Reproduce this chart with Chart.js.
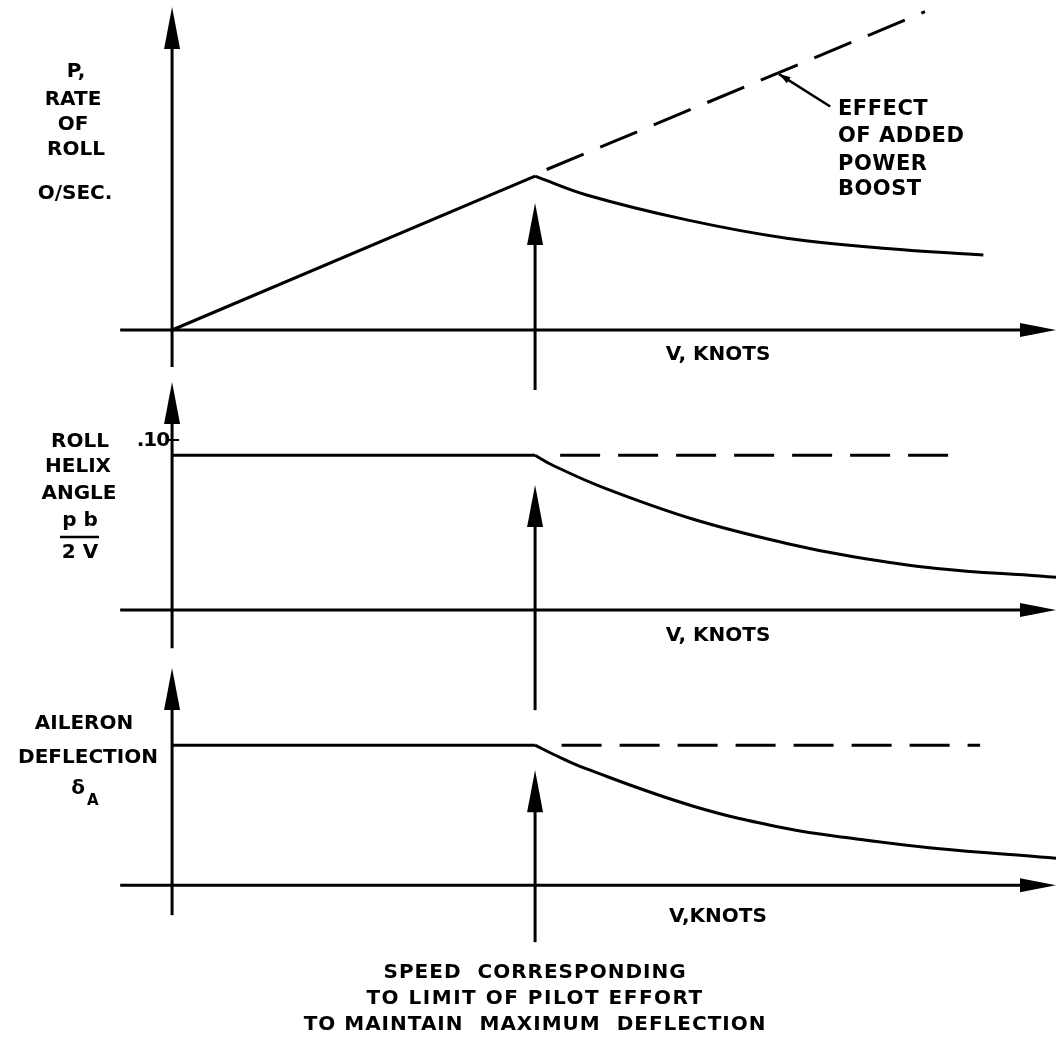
<!DOCTYPE html>
<html lang="en">
<head>
<meta charset="UTF-8" />
<title>Rate of roll, helix angle and aileron deflection vs speed</title>
<script src="https://cdn.jsdelivr.net/npm/chart.js@4.4.1/dist/chart.umd.min.js"></script>
<style>
  html, body { margin: 0; padding: 0; background: #fff; }
  #wrap { width: 1056px; height: 1040px; }
</style>
</head>
<body>
<div id="wrap"><canvas id="grafico" width="1056" height="1040"></canvas></div>

<script>
// V in arbitrary units, the pilot-effort limit speed sits at V = 10

// top panel: p, rate of roll
const rollRiseV = [0, 10];
const rollRiseP = [0, 5.13];
const rollDecayV = [10, 11.42, 14.18, 16.93, 19.69, 22.35];
const rollDecayP = [5.13, 4.5, 3.67, 3.06, 2.72, 2.5];
const boostV = [10.32, 20.74];
const boostP = [5.35, 10.61];

// middle panel: roll helix angle pb/2V
const helixFlatV = [0, 10];
const helixFlat = [0.091, 0.091];
const helixDecayV = [10, 10.5, 11.88, 14.36, 16.93, 18.77, 21.07, 23.91, 24.35];
const helixDecay = [0.091, 0.085, 0.072, 0.0534, 0.0392, 0.0314, 0.0245, 0.02, 0.0193];
const helixBoostV = [10.69, 21.66];
const helixBoost = [0.091, 0.091];
const helixTicks = [0.10];
const helixTickLabels = [".10"];

// bottom panel: aileron deflection
const aileronFlatV = [0, 10];
const aileronFlat = [10, 10];
const aileronDecayV = [10, 10.5, 11.42, 14.36, 16.93, 18.77, 21.07, 23.91, 24.35];
const aileronDecay = [10, 9.35, 8.3, 5.64, 4.05, 3.34, 2.62, 2.02, 1.93];
const aileronBoostV = [10.73, 22.26];
const aileronBoost = [10, 10];

const limitV = 10;

function pts(xs, ys) {
  return xs.map((x, i) => ({ x: x, y: ys[i] }));
}

function serie(xs, ys, eixo, tracejado, curva) {
  return {
    data: pts(xs, ys),
    yAxisID: eixo,
    borderColor: "#000",
    borderWidth: 3,
    pointRadius: 0,
    borderDash: tracejado ? [40, 18] : [],
    tension: curva ? 0.4 : 0,
    fill: false,
  };
}

const FONTE = 'bold 20px "DejaVu Sans", "Liberation Sans", sans-serif';

function setaCima(ctx, x, yPonta, yFim) {
  ctx.beginPath();
  ctx.moveTo(x, yFim);
  ctx.lineTo(x, yPonta + 30);
  ctx.stroke();
  ctx.beginPath();
  ctx.moveTo(x, yPonta);
  ctx.lineTo(x - 8, yPonta + 42);
  ctx.lineTo(x + 8, yPonta + 42);
  ctx.closePath();
  ctx.fill();
}

function setaDireita(ctx, xIni, xPonta, y) {
  ctx.beginPath();
  ctx.moveTo(xIni, y);
  ctx.lineTo(xPonta - 20, y);
  ctx.stroke();
  ctx.beginPath();
  ctx.moveTo(xPonta, y);
  ctx.lineTo(xPonta - 36, y - 7);
  ctx.lineTo(xPonta - 36, y + 7);
  ctx.closePath();
  ctx.fill();
}

function texto(ctx, s, x, y, alinhar, espaco) {
  ctx.letterSpacing = (espaco || 0) + "px";
  ctx.textAlign = alinhar || "center";
  ctx.fillText(s, x, y);
  ctx.letterSpacing = "0px";
}

// axes, arrows and lettering of the schematic
const desenho = {
  id: "desenho",
  afterDatasetsDraw(chart) {
    const ctx = chart.ctx;
    const sx = chart.scales.x;
    const X = (v) => sx.getPixelForValue(v);
    ctx.save();
    ctx.strokeStyle = "#000";
    ctx.fillStyle = "#000";
    ctx.lineWidth = 3;
    ctx.lineCap = "butt";

    // [scale id, top of y axis, bottom of y axis, limit arrow tip, limit line bottom]
    const paineis = [
      ["y1", 10.77, -1.23, 4.23, -2.0],
      ["y2", 0.134, -0.0224, 0.0735, -0.0588],
      ["y3", 15.5, -2.14, 8.21, -4.07],
    ];
    paineis.forEach((p) => {
      const s = chart.scales[p[0]];
      const y0 = s.getPixelForValue(0);
      setaCima(ctx, X(0), s.getPixelForValue(p[1]), s.getPixelForValue(p[2]));
      setaDireita(ctx, X(-1.43), X(sx.max), y0);
      setaCima(ctx, X(limitV), s.getPixelForValue(p[3]), s.getPixelForValue(p[4]));
    });

    ctx.font = FONTE;
    ctx.textBaseline = "middle";

    // tick .10 on the helix axis
    const s2 = chart.scales.y2;
    helixTicks.forEach((t, i) => {
      const yt = s2.getPixelForValue(t);
      ctx.lineWidth = 2;
      ctx.beginPath();
      ctx.moveTo(X(0) - 4, yt);
      ctx.lineTo(X(0) + 7, yt);
      ctx.stroke();
      texto(ctx, helixTickLabels[i], X(0) - 3, yt + 1, "right", -1);
    });

    // speed axis titles
    [["y1", 25], ["y2", 26], ["y3", 32]].forEach((a, i) => {
      const y0 = chart.scales[a[0]].getPixelForValue(0);
      texto(ctx, i === 2 ? "V,KNOTS" : "V, KNOTS", 718, y0 + a[1]);
    });

    // top panel label
    [["P,", 72, 76], ["RATE", 100, 73], ["OF", 125, 73], ["ROLL", 150, 76], ["O/SEC.", 194, 75]].forEach((l) =>
      texto(ctx, l[0], l[2], l[1]));

    // middle panel label
    [["ROLL", 442, 80], ["HELIX", 467, 78], ["ANGLE", 494, 79]].forEach((l) => texto(ctx, l[0], l[2], l[1]));
    texto(ctx, "p b", 80, 521);
    ctx.lineWidth = 2.5;
    ctx.beginPath();
    ctx.moveTo(60, 537);
    ctx.lineTo(99, 537);
    ctx.stroke();
    texto(ctx, "2 V", 80, 553);

    // bottom panel label
    texto(ctx, "AILERON", 84, 724);
    texto(ctx, "DEFLECTION", 88, 758);
    texto(ctx, "\u03b4", 78, 789);
    ctx.font = 'bold 15px "DejaVu Sans", "Liberation Sans", sans-serif';
    texto(ctx, "A", 87, 801, "left");
    ctx.font = FONTE;

    // leader line to the dashed boost line
    const s1 = chart.scales.y1;
    const ax = X(16.72), ay = s1.getPixelForValue(8.53);
    const bx = X(18.13), by = s1.getPixelForValue(7.45);
    ctx.lineWidth = 2.5;
    ctx.beginPath();
    ctx.moveTo(bx, by);
    ctx.lineTo(ax, ay);
    ctx.stroke();
    const ang = Math.atan2(ay - by, ax - bx);
    ctx.beginPath();
    ctx.moveTo(ax, ay);
    ctx.lineTo(ax - 12 * Math.cos(ang - 0.3), ay - 12 * Math.sin(ang - 0.3));
    ctx.lineTo(ax - 12 * Math.cos(ang + 0.3), ay - 12 * Math.sin(ang + 0.3));
    ctx.closePath();
    ctx.fill();

    ctx.font = 'bold 21px "DejaVu Sans", "Liberation Sans", sans-serif';
    [["EFFECT", 110], ["OF ADDED", 137], ["POWER", 165], ["BOOST", 190]].forEach((l) =>
      texto(ctx, l[0], 838, l[1], "left", 0.5));
    ctx.font = FONTE;

    // note under the limit speed
    const xl = X(limitV);
    texto(ctx, "SPEED  CORRESPONDING", xl, 973, "center", 1);
    texto(ctx, "TO LIMIT OF PILOT EFFORT", xl, 999, "center", 1.5);
    texto(ctx, "TO MAINTAIN  MAXIMUM  DEFLECTION", xl, 1025, "center", 1);

    ctx.restore();
  },
};

new Chart(document.getElementById("grafico"), {
  type: "line",
  data: {
    datasets: [
      serie(rollRiseV, rollRiseP, "y1", false, false),
      serie(rollDecayV, rollDecayP, "y1", false, true),
      serie(boostV, boostP, "y1", true, false),
      serie(helixFlatV, helixFlat, "y2", false, false),
      serie(helixDecayV, helixDecay, "y2", false, true),
      serie(helixBoostV, helixBoost, "y2", true, false),
      serie(aileronFlatV, aileronFlat, "y3", false, false),
      serie(aileronDecayV, aileronDecay, "y3", false, true),
      serie(aileronBoostV, aileronBoost, "y3", true, false),
    ],
  },
  options: {
    responsive: false,
    devicePixelRatio: 1,
    animation: false,
    layout: { padding: { left: 0, right: 0, top: 0, bottom: 110 } },
    plugins: { legend: { display: false }, tooltip: { enabled: false } },
    scales: {
      x: { type: "linear", min: -4.74, max: 24.35, display: false },
      y1: { type: "linear", position: "left", stack: "paineis", stackWeight: 360, weight: 3, min: -1, max: 11, display: false },
      y2: { type: "linear", position: "left", stack: "paineis", stackWeight: 285, weight: 2, min: -0.0205, max: 0.147, display: false },
      y3: { type: "linear", position: "left", stack: "paineis", stackWeight: 285, weight: 1, min: -3.2, max: 17.15, display: false },
    },
  },
  plugins: [desenho],
});
</script>
</body>
</html>
